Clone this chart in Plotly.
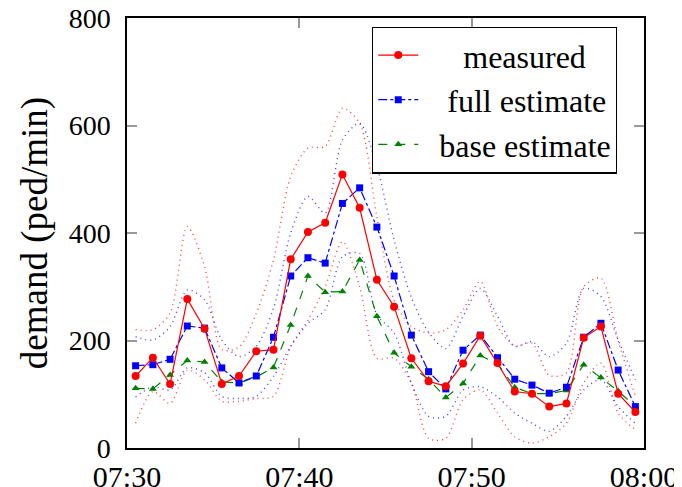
import plotly.graph_objects as go

times = ["2020-01-01 07:30:30", "2020-01-01 07:31:30", "2020-01-01 07:32:30", "2020-01-01 07:33:30",
         "2020-01-01 07:34:30", "2020-01-01 07:35:30", "2020-01-01 07:36:30", "2020-01-01 07:37:30",
         "2020-01-01 07:38:30", "2020-01-01 07:39:30", "2020-01-01 07:40:30", "2020-01-01 07:41:30",
         "2020-01-01 07:42:30", "2020-01-01 07:43:30", "2020-01-01 07:44:30", "2020-01-01 07:45:30",
         "2020-01-01 07:46:30", "2020-01-01 07:47:30", "2020-01-01 07:48:30", "2020-01-01 07:49:30",
         "2020-01-01 07:50:30", "2020-01-01 07:51:30", "2020-01-01 07:52:30", "2020-01-01 07:53:30",
         "2020-01-01 07:54:30", "2020-01-01 07:55:30", "2020-01-01 07:56:30", "2020-01-01 07:57:30",
         "2020-01-01 07:58:30", "2020-01-01 07:59:30"]

measured = [134, 168, 119, 277, 222, 119, 134, 180, 183, 351, 402, 419, 509, 447, 313,
            263, 167, 124, 115, 157, 209, 158, 105, 101, 77, 83, 205, 226, 101, 67]
full_estimate = [153, 155, 165, 227, 223, 149, 121, 134, 206, 320, 354, 344, 455, 484, 411,
                 320, 210, 142, 110, 182, 210, 168, 128, 117, 102, 113, 206, 232, 145, 77]
base_estimate = [111, 110, 136, 163, 160, 123, 121, 132, 150, 229, 320, 290, 291, 350, 245,
                 177, 151, 128, 94, 120, 172, 157, 113, 101, 101, 107, 155, 131, 106, 77]

measured_upper = [220, 220, 251, 412, 338, 183, 188, 250, 350, 505, 558, 561, 632, 604, 430,
                  275, 226, 214, 220, 257, 310, 226, 190, 195, 135, 140, 300, 316, 200, 96]
measured_lower = [46, 105, 83, 145, 127, 87, 87, 92, 96, 189, 238, 300, 384, 300, 167,
                  167, 121, 18, 18, 90, 108, 65, 21, 9, 21, 46, 121, 158, 65, 34]
full_upper = [207, 201, 226, 294, 276, 201, 170, 189, 260, 400, 468, 437, 573, 604, 524,
              387, 280, 215, 185, 245, 297, 245, 189, 198, 170, 195, 297, 282, 201, 127]
full_lower = [95, 114, 108, 149, 140, 96, 92, 96, 133, 189, 232, 257, 356, 362, 248,
              214, 121, 59, 59, 108, 114, 95, 65, 46, 31, 59, 108, 127, 77, 46]

RED = "rgb(255,0,0)"
BLUE = "rgb(0,0,255)"
GREEN = "rgb(0,128,0)"
FONT = "Liberation Serif"

fig = go.Figure()

for vals, col in [(measured_upper, RED), (measured_lower, RED), (full_upper, BLUE), (full_lower, BLUE)]:
    fig.add_trace(go.Scatter(x=times, y=vals, mode="lines", showlegend=False, hoverinfo="skip",
                             line=dict(color=col, width=1.4, dash="1px,4px", shape="spline", smoothing=0.8),
                             opacity=0.75))

fig.add_trace(go.Scatter(x=times, y=base_estimate, mode="lines+markers",
                         name="\u00a0\u00a0base estimate",
                         line=dict(color=GREEN, width=1.2, dash="dash"),
                         marker=dict(symbol="triangle-up", size=7, color=GREEN)))
fig.add_trace(go.Scatter(x=times, y=full_estimate, mode="lines+markers",
                         name="\u00a0\u00a0\u00a0full estimate",
                         line=dict(color=BLUE, width=1.2, dash="dashdot"),
                         marker=dict(symbol="square", size=7, color=BLUE)))
fig.add_trace(go.Scatter(x=times, y=measured, mode="lines+markers",
                         name="\u00a0\u00a0\u00a0\u00a0\u00a0measured",
                         line=dict(color=RED, width=1.2),
                         marker=dict(symbol="circle", size=8, color=RED)))

axis_common = dict(showgrid=False, zeroline=False, showline=True, linecolor="black", linewidth=1.5,
                   mirror="allticks", ticks="inside", ticklen=10, tickwidth=1.5, tickcolor="#999999",
                   automargin=False, ticklabeloverflow="allow")

fig.update_xaxes(range=["2020-01-01 07:30:00", "2020-01-01 08:00:00"], tickformat="%H:%M",
                 dtick=600000, tick0="2020-01-01 07:30:00", ticklabelstandoff=1,
                 tickfont=dict(family=FONT, size=30, color="black"), **axis_common)
fig.update_yaxes(range=[0, 800], dtick=200, ticklabelstandoff=9,
                 tickfont=dict(family=FONT, size=28, color="black"),
                 title=dict(text="demand (ped/min)", font=dict(family=FONT, size=37, color="black"),
                            standoff=10),
                 **axis_common)

# the page body offsets the figure by 8px; margins place the plot area where the reference has it
fig.update_layout(
    width=682, height=487,
    margin=dict(l=119, r=46, t=10, b=47),
    plot_bgcolor="white", paper_bgcolor="white",
    font=dict(family=FONT, color="black"),
    legend=dict(x=0.474, y=0.98, xanchor="left", yanchor="top", traceorder="reversed",
                bgcolor="white", bordercolor="black", borderwidth=1.2,
                font=dict(family=FONT, size=32, color="black"), itemwidth=40,
                tracegroupgap=0),
)

fig.write_html("out.html")
